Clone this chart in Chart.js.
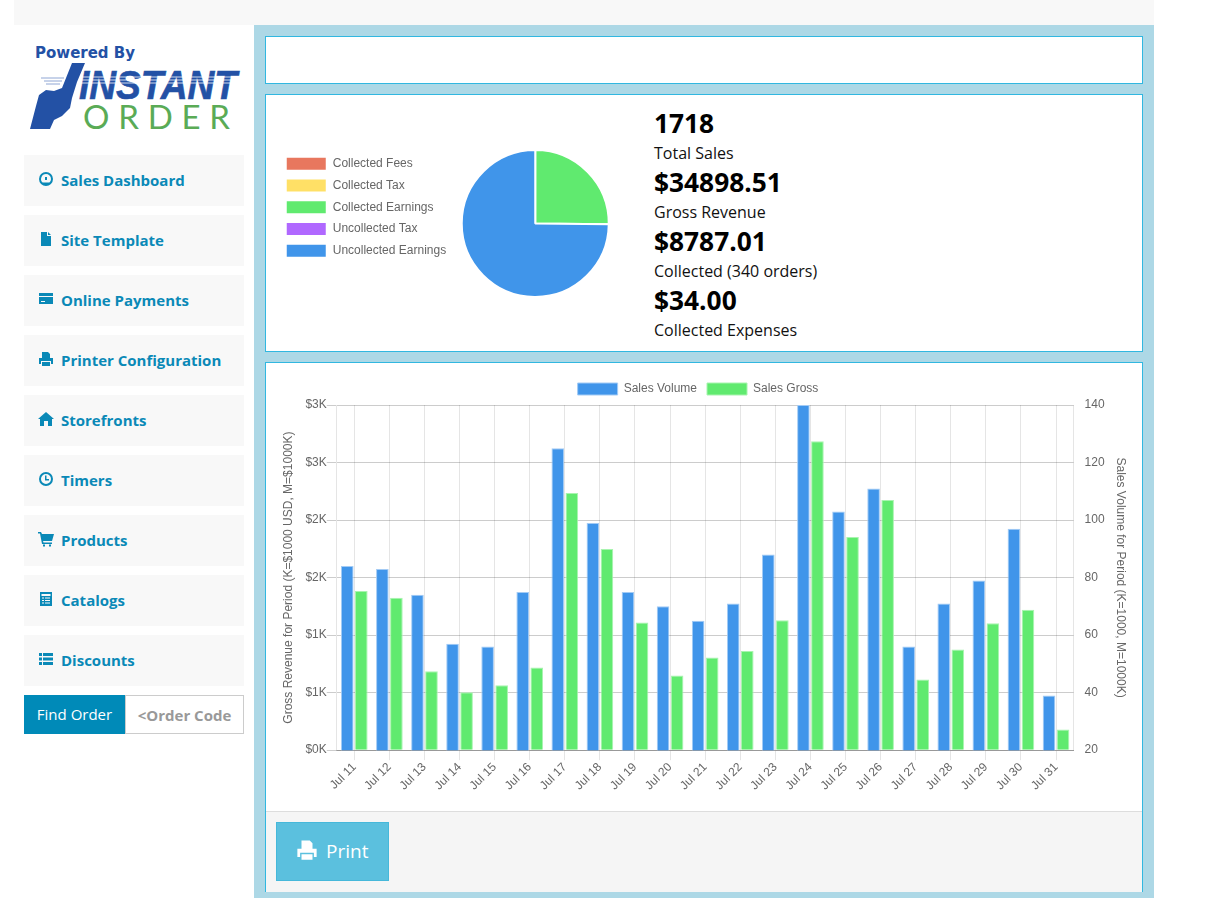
<!DOCTYPE html>
<html>
<head>
<meta charset="utf-8">
<title>Sales Dashboard</title>
<script src="https://cdn.jsdelivr.net/npm/chart.js@4"></script>
<style>
html, body { margin: 0; padding: 0; background: #fff; width: 1211px; height: 898px; overflow: hidden; font-family: "Open Sans", sans-serif; }
.abs { position: absolute; }
#topband { left: 14px; top: 0; width: 1140px; height: 25px; background: #f8f8f8; }
#main { left: 254px; top: 25px; width: 900px; height: 873px; background: #add8e6; }
.panel { position: absolute; left: 265px; width: 876px; background: #fff; border: 1px solid #31b7e0; }
.nav { position: absolute; left: 24px; width: 220px; height: 51px; background: #f8f8f8; color: #0a89b7; font-weight: 700; font-size: 15px; line-height: 51px; }
.nav span { position: absolute; left: 37px; }
.nav svg { position: absolute; left: 14px; top: 16px; width: 16px; height: 16px; fill: #0a89b7; }
.big { position: absolute; left: 654px; font-weight: 700; font-size: 26.3px; line-height: 36px; color: #000; }
.small { position: absolute; left: 654px; font-size: 16px; line-height: 22px; color: #111; }
#findbtn { left: 24px; top: 695px; width: 101px; height: 39px; background: #008ab8; color: #fff; font-size: 15px; line-height: 39px; text-align: center; }
#findinput { left: 125px; top: 695px; width: 117px; height: 37px; border: 1px solid #ccc; background: #fff; color: #999; font-weight: 700; font-size: 15px; line-height: 39px; text-align: center; }
#footer { left: 266px; top: 811px; width: 876px; height: 80px; background: #f5f5f5; border-top: 1px solid #ddd; }
#print { left: 276px; top: 822px; width: 111px; height: 57px; background: #5bc0de; border: 1px solid #46b8da; color: #fff; font-size: 19px; line-height: 56px; }
#print span { position: absolute; left: 49px; }
#print svg { position: absolute; left: 19px; top: 16px; width: 22px; height: 22px; fill: #fff; }
#pieWrap { left: 278px; top: 149px; width: 343px; height: 149px; }
#barWrap { left: 268px; top: 373px; width: 860px; height: 420px; }
</style>
</head>
<body>
<div class="abs" id="topband"></div>
<div class="abs" id="main"></div>
<div class="panel" style="top:36px;height:46px"></div>
<div class="panel" style="top:94px;height:256px"></div>
<div class="panel" style="top:362px;height:528px"></div>
<div class="abs" id="footer"></div>

<svg class="abs" style="left:24px;top:40px" width="225" height="95" viewBox="24 40 225 95">
  <text x="35" y="58" font-family="DejaVu Sans" font-weight="700" font-size="15.5" fill="#2351a5" textLength="100" lengthAdjust="spacingAndGlyphs">Powered By</text>
  <text x="79" y="99" font-family="Liberation Sans" font-weight="700" font-style="italic" font-size="40" fill="#2351a5" stroke="#2351a5" stroke-width="0.6" textLength="158" lengthAdjust="spacingAndGlyphs">INSTANT</text>
  <g stroke="#fff" stroke-width="0.8"><line x1="78" y1="77" x2="240" y2="77"/><line x1="78" y1="80" x2="240" y2="80"/><line x1="78" y1="83" x2="240" y2="83"/></g>
  <polygon fill="#2351a5" points="30,129 36,106 39,95 46,90 54,91 62,88 72,63 85,63 77,82 72,98 70,108 62,116 54,120 50,129"/>
  <g stroke="#8fa6d4" stroke-width="1"><line x1="41" y1="78" x2="64" y2="78"/><line x1="44" y1="81" x2="62" y2="81"/><line x1="46" y1="84" x2="60" y2="84"/></g>
  <text x="83" y="129" font-family="Lato" font-size="33" fill="#5aab56" textLength="147">ORDER</text>
</svg>

<div class="big" style="top:105px">1718</div>
<div class="small" style="top:142px">Total Sales</div>
<div class="big" style="top:164px">$34898.51</div>
<div class="small" style="top:201px">Gross Revenue</div>
<div class="big" style="top:223px">$8787.01</div>
<div class="small" style="top:260px">Collected (340 orders)</div>
<div class="big" style="top:282px">$34.00</div>
<div class="small" style="top:319px">Collected Expenses</div>

<div class="abs" id="findbtn">Find Order</div>
<div class="abs" id="findinput">&lt;Order Code</div>
<div class="abs" id="print">
  <svg viewBox="0 0 16 16"><path d="M4 1h6l2 2v4H4zM1 7h14v6h-2v-3H3v3H1zM4 11h8v4H4z"/></svg>
  <span>Print</span>
</div>

<div class="abs" id="pieWrap"><canvas id="pie_chart"></canvas></div>
<div class="abs" id="barWrap"><canvas id="bar_chart"></canvas></div>

<script>
var days = ['Jul 11', 'Jul 12', 'Jul 13', 'Jul 14', 'Jul 15', 'Jul 16', 'Jul 17', 'Jul 18', 'Jul 19', 'Jul 20', 'Jul 21',
    'Jul 22', 'Jul 23', 'Jul 24', 'Jul 25', 'Jul 26', 'Jul 27', 'Jul 28', 'Jul 29', 'Jul 30', 'Jul 31'];
var salesVolume = [84, 83, 74, 57, 56, 75, 125, 99, 75, 70, 65, 71, 88, 140, 103, 111, 56, 71, 79, 97, 39];
var salesGross = [1383, 1325, 687, 504, 565, 719, 2235, 1748, 1110, 650, 806, 861, 1130, 2684, 1852, 2174, 615, 876, 1104, 1220, 180];

var pieLabels = ['Collected Fees', 'Collected Tax', 'Collected Earnings', 'Uncollected Tax', 'Uncollected Earnings'];
var pieValues = [0, 0, 8787.01, 0, 26111.50];
var pieColors = ['#e8775e', '#ffe066', '#60ea6f', '#b068ff', '#4095ea'];

var navLabels = ['Sales Dashboard', 'Site Template', 'Online Payments', 'Printer Configuration', 'Storefronts', 'Timers', 'Products', 'Catalogs', 'Discounts'];
var navIcons = [
    'M8 1a7 7 0 1 0 0 14A7 7 0 0 0 8 1zm0 2a5 5 0 0 1 5 5c0 1.500-.6 2.700-1.600 3.600H4.600A5 5 0 0 1 8 3zM7 6h2v3H7z',
    'M3 1h6v4h4v10H3zM10 1l3 3h-3z',
    'M1 2h14v3H1zM1 6h14v7H1zM3 10v1h4v-1z',
    'M4 1h6l2 2v4H4zM1 7h14v6h-2v-3H3v3H1zM4 11h8v4H4z',
    'M8 1l8 7h-2v7h-4v-5H6v5H2V8H0z',
    'M8 1a7 7 0 1 0 0 14A7 7 0 0 0 8 1zm0 2a5 5 0 1 1 0 10A5 5 0 0 1 8 3zM7 4.500h1.500V8H11v1.500H7z',
    'M0 1h3l1 2h12l-2 7H5l.5 1.500H14V13H4L2 2.500H0zM5 13.500h2V15.500H5zM11 13.500h2V15.500h-2z',
    'M2 1h12v14H2zM3.500 3v2h9V3zM4 6.500v1h2v-1zM7 6.500v1h5v-1zM4 9v1h2V9zM7 9v1h5V9zM4 11.500v1h2v-1zM7 11.500v1h5v-1z',
    'M1 2h3v3H1zM5 2h10v3H5zM1 6.500h3v3H1zM5 6.500h10v3H5zM1 11h3v3H1zM5 11h10v3H5z'
];

navLabels.forEach((label, i) => {
    var el = document.createElement('div');
    el.className = 'nav';
    el.style.top = (155 + i * 60) + 'px';
    el.innerHTML = `<svg viewBox="0 0 16 16"><path fill-rule="evenodd" d="${navIcons[i]}"/></svg><span>${label}</span>`;
    document.body.appendChild(el);
});

Chart.defaults.font.family = '"Liberation Sans", Arial, sans-serif';
Chart.defaults.font.size = 12;
Chart.defaults.color = '#666';
Chart.defaults.animation = false;

var pie = {
    type: 'pie',
    data: {
        labels: pieLabels,
        datasets: [{
            data: pieValues,
            backgroundColor: pieColors,
            borderColor: '#fff',
            borderWidth: 2
        }]
    },
    options: {
        responsive: true,
        maintainAspectRatio: false,
        plugins: {
            legend: {
                position: 'left',
                align: 'start',
                // the white slice border eats into the legend boxes
                labels: { boxWidth: 41, boxHeight: 14, padding: 7.75 }
            },
            tooltip: { enabled: false }
        }
    }
};

var bars = {
    type: 'bar',
    data: {
        labels: days,
        datasets: [{
            label: 'Sales Volume',
            data: salesVolume,
            yAxisID: 'y_volume',
            backgroundColor: '#4095ea',
            borderColor: '#a3cbf5',
            borderWidth: 1
        }, {
            label: 'Sales Gross',
            data: salesGross,
            yAxisID: 'y_gross',
            backgroundColor: '#60ea6f',
            borderColor: '#a8f4af',
            borderWidth: 1
        }]
    },
    options: {
        responsive: true,
        maintainAspectRatio: false,
        plugins: {
            legend: {
                position: 'top',
                labels: { boxWidth: 40, boxHeight: 12, padding: 10 }
            },
            tooltip: { enabled: false }
        },
        scales: {
            x: {
                grid: { offset: false, tickLength: 10, color: 'rgba(0,0,0,0.1)' },
                border: { color: 'rgba(0,0,0,0.25)' },
                ticks: { minRotation: 45, maxRotation: 45, autoSkip: false, padding: 0 }
            },
            y_gross: {
                position: 'left',
                min: 0,
                max: 3000,
                grid: { tickLength: 10, color: 'rgba(0,0,0,0.2)' },
                border: { color: 'rgba(0,0,0,0.1)' },
                ticks: {
                    stepSize: 500,
                    padding: 0,
                    callback: (value) => '$' + (value / 1000).toFixed(0) + 'K'
                },
                title: {
                    display: true,
                    text: 'Gross Revenue for Period (K=$1000 USD, M=$1000K)',
                    padding: { top: 13, bottom: 10 }
                }
            },
            y_volume: {
                position: 'right',
                min: 20,
                max: 140,
                grid: { display: false },
                border: { color: 'rgba(0,0,0,0.1)' },
                ticks: { stepSize: 20, padding: 3 },
                title: {
                    display: true,
                    text: 'Sales Volume for Period (K=1000, M=1000K)',
                    padding: { top: 0, bottom: 6 }
                }
            }
        }
    }
};

new Chart(document.getElementById('pie_chart').getContext('2d'), pie);
new Chart(document.getElementById('bar_chart').getContext('2d'), bars);
</script>
</body>
</html>
